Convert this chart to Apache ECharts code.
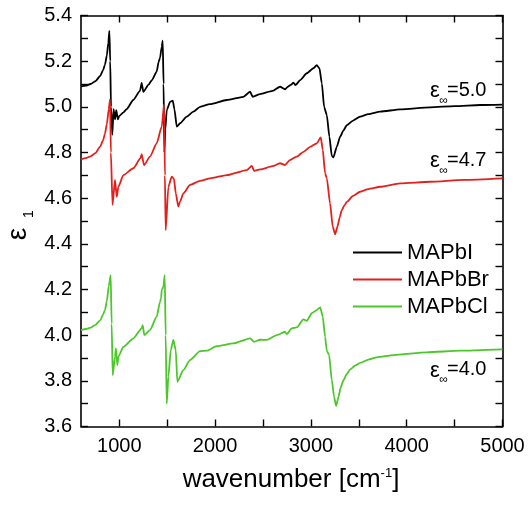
<!DOCTYPE html>
<html><head><meta charset="utf-8">
<script src="https://cdn.jsdelivr.net/npm/echarts@6/dist/echarts.min.js"></script>
<style>html,body{margin:0;padding:0;background:#fff}#c{width:528px;height:505px}</style>
</head><body><div id="c"></div>
<script>
const seriesNames = ['MAPbI', 'MAPbBr', 'MAPbCl'];
const seriesColors = ['#000000', '#e3201b', '#4cc72a'];

const wnI = [600,650,700,750,800,830,850,870,885,896,905,913,927,940,955,968,985,1000,1040,1077,1146,1216,1233,1251,1303,1340,1390,1411,1425,1443,1453,1462,1470,1480,1495,1530,1558,1575,1600,1634,1704,1773,1843,1947,2122,2295,2365,2393,2470,2600,2678,2730,2760,2790,2817,2840,2887,2957,3026,3061,3089,3114,3138,3166,3193,3218,3235,3270,3305,3340,3375,3440,3514,3600,3723,3932,4245,4500,4767,5000];
const epsI = [5.090,5.093,5.100,5.112,5.135,5.160,5.185,5.225,5.280,5.333,5.200,5.000,4.877,4.990,4.945,4.985,4.945,4.960,4.975,4.990,5.030,5.070,5.105,5.066,5.096,5.117,5.154,5.198,5.215,5.263,5.290,5.100,4.800,4.900,4.986,5.022,5.027,4.990,4.913,4.928,4.957,4.979,5.000,5.012,5.030,5.044,5.066,5.044,5.056,5.070,5.088,5.077,5.088,5.096,5.106,5.095,5.117,5.147,5.169,5.183,5.169,5.103,5.000,4.964,4.869,4.785,4.779,4.825,4.869,4.897,4.920,4.940,4.957,4.968,4.979,4.989,4.998,5.003,5.008,5.010];

const wnBr = [600,650,700,750,800,830,850,870,890,903,912,929,955,973,990,1042,1147,1222,1233,1258,1320,1390,1443,1467,1476,1484,1512,1547,1570,1590,1616,1634,1668,1738,1843,1947,2122,2330,2383,2407,2470,2600,2678,2730,2780,2852,2922,2992,3061,3103,3124,3148,3166,3200,3228,3253,3277,3300,3322,3350,3375,3440,3514,3600,3723,3932,4245,4600,5000];
const epsBr = [4.770,4.775,4.783,4.797,4.826,4.853,4.882,4.925,4.990,5.033,4.800,4.570,4.680,4.606,4.650,4.701,4.731,4.775,4.793,4.745,4.782,4.840,4.913,5.011,4.700,4.460,4.650,4.694,4.685,4.620,4.563,4.585,4.621,4.658,4.676,4.687,4.701,4.723,4.741,4.720,4.726,4.740,4.753,4.745,4.767,4.782,4.803,4.825,4.840,4.866,4.811,4.709,4.687,4.577,4.475,4.442,4.475,4.515,4.548,4.568,4.584,4.610,4.628,4.640,4.650,4.665,4.672,4.680,4.687];

const wnCl = [600,650,700,750,800,830,850,870,890,910,920,931,955,965,979,990,1042,1147,1233,1244,1261,1320,1390,1425,1436,1443,1460,1474,1484,1495,1512,1537,1564,1589,1606,1668,1738,1843,1913,2017,2191,2365,2407,2470,2539,2644,2730,2748,2800,2852,2922,2957,3009,3061,3097,3124,3148,3166,3190,3218,3242,3263,3288,3310,3340,3375,3410,3460,3514,3600,3688,3862,4210,4558,5000];
const epsCl = [4.022,4.027,4.033,4.045,4.065,4.090,4.110,4.150,4.215,4.263,4.050,3.825,3.906,3.942,3.869,3.906,3.949,3.986,4.030,4.044,4.000,4.022,4.081,4.146,4.163,4.198,4.212,4.263,4.000,3.700,3.818,3.935,3.979,3.935,3.796,3.847,3.891,3.930,3.932,3.952,3.964,3.986,3.971,3.980,3.979,4.000,4.015,4.005,4.030,4.034,4.069,4.063,4.096,4.110,4.122,4.081,3.993,3.932,3.913,3.803,3.730,3.690,3.730,3.770,3.803,3.830,3.850,3.866,3.879,3.893,3.903,3.913,3.925,3.932,3.938];

const xLabelValues = [1000, 2000, 3000, 4000, 5000];
const xTickValues = [1000, 1500, 2000, 2500, 3000, 3500, 4000, 4500, 5000];
const yLabelValues = [3.6, 3.8, 4.0, 4.2, 4.4, 4.6, 4.8, 5.0, 5.2, 5.4];
const yTickValues = [3.6, 3.7, 3.8, 3.9, 4.0, 4.1, 4.2, 4.3, 4.4, 4.5, 4.6, 4.7, 4.8, 4.9, 5.0, 5.1, 5.2, 5.3, 5.4];
const epsInfLabels = ['=5.0', '=4.7', '=4.0'];
const xTitleMain = 'wavenumber [cm';
const xTitleSup = '-1';
const yTitleMain = 'ε';
const yTitleSub = '1';

const FONT = '"Liberation Sans", Arial, sans-serif';

function zip(a, b) { return a.map((v, i) => [v, b[i]]); }

const lineCfg = { show: true, lineStyle: { color: '#000', width: 1.6 } };
const tickCfg = (vals) => ({ show: true, inside: true, length: 7, customValues: vals, lineStyle: { color: '#000', width: 1.4 } });

function xAx(pos, labels) {
  return {
    type: 'value', position: pos, min: 600, max: 5000,
    axisLine: lineCfg, axisTick: tickCfg(xTickValues), splitLine: { show: false },
    axisLabel: labels ? { show: true, customValues: xLabelValues, margin: 10, color: '#000', fontSize: 20, fontFamily: FONT, formatter: v => String(v) } : { show: false }
  };
}
function yAx(pos, labels) {
  return {
    type: 'value', position: pos, min: 3.6, max: 5.4,
    axisLine: lineCfg, axisTick: tickCfg(yTickValues), splitLine: { show: false },
    axisLabel: labels ? { show: true, customValues: yLabelValues, margin: 9, color: '#000', fontSize: 20, fontFamily: FONT, formatter: v => v.toFixed(1) } : { show: false }
  };
}

const annotY = [90, 160, 369.5];
const graphics = [];
annotY.forEach((cy, i) => {
  graphics.push({ type: 'text', x: 435, y: cy + 1, style: { text: 'ε', fontSize: 22, fontFamily: FONT, fill: '#000', align: 'center', verticalAlign: 'middle' } });
  graphics.push({ type: 'text', x: 443.5, y: cy + 10.5, style: { text: '∞', fontSize: 12, fontFamily: FONT, fill: '#000', align: 'center', verticalAlign: 'middle' } });
  graphics.push({ type: 'text', x: 447, y: cy, style: { text: epsInfLabels[i], fontSize: 20, fontFamily: FONT, fill: '#000', align: 'left', verticalAlign: 'middle' } });
});
graphics.push({ type: 'text', x: 291, y: 480, style: { text: '{a|' + xTitleMain + '}{b|' + xTitleSup + '}{a|]}', fontFamily: FONT, fill: '#000', align: 'center', verticalAlign: 'middle',
  rich: { a: { fontSize: 26, fontFamily: FONT, lineHeight: 27, verticalAlign: 'top' }, b: { fontSize: 13, fontFamily: FONT, lineHeight: 13, verticalAlign: 'top' } } } });
graphics.push({ type: 'text', x: 18, y: 234, rotation: Math.PI / 2, style: { text: yTitleMain, fontSize: 28, fontFamily: FONT, fill: '#000', align: 'center', verticalAlign: 'middle' } });
graphics.push({ type: 'text', x: 29, y: 214, rotation: Math.PI / 2, style: { text: yTitleSub, fontSize: 14, fontFamily: FONT, fill: '#000', align: 'center', verticalAlign: 'middle' } });

const chart = echarts.init(document.getElementById('c'), null, { renderer: 'canvas' });
chart.setOption({
  backgroundColor: '#fff',
  animation: false,
  grid: { left: 81, right: 25.5, top: 15.5, bottom: 78.5, containLabel: false },
  xAxis: [xAx('bottom', true), xAx('top', false)],
  yAxis: [yAx('left', true), yAx('right', false)],
  legend: {
    orient: 'vertical', left: 348, top: 236.5, itemWidth: 49, itemHeight: 2, itemGap: 5, icon: 'rect',
    textStyle: { fontSize: 22, fontFamily: FONT, color: '#000', lineHeight: 22 },
    data: seriesNames
  },
  series: [
    { name: seriesNames[0], data: zip(wnI, epsI) },
    { name: seriesNames[1], data: zip(wnBr, epsBr) },
    { name: seriesNames[2], data: zip(wnCl, epsCl) }
  ].map((s, i) => Object.assign(s, {
    type: 'line', xAxisIndex: 0, yAxisIndex: 0, symbol: 'none', smooth: 0.2, smoothMonotone: 'x',
    lineStyle: { color: seriesColors[i], width: 1.8 }, itemStyle: { color: seriesColors[i] }
  })),
  graphic: graphics
});
</script></body></html>
